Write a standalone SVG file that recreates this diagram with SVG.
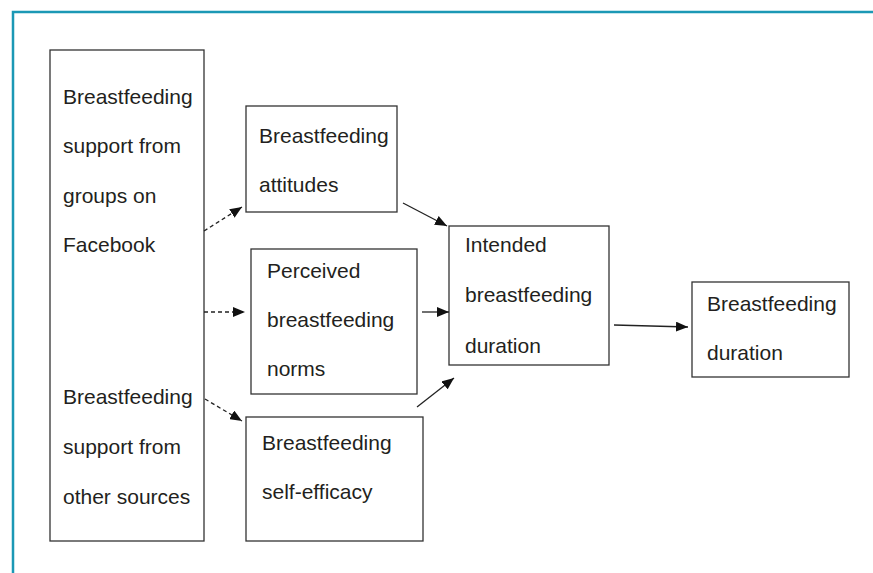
<svg xmlns="http://www.w3.org/2000/svg" width="873" height="573" viewBox="0 0 873 573">
<style>
.box{fill:#fff;stroke:#333;stroke-width:1.3}
.t{font-family:"Liberation Sans",Arial,sans-serif;font-size:21px;fill:#231f20}
.c{stroke:#222;stroke-width:1.3;fill:none}
.d{stroke-dasharray:4 3}
</style>
<defs>
<marker id="ah" viewBox="0 0 12 10" refX="12" refY="5" markerWidth="12" markerHeight="10" markerUnits="userSpaceOnUse" orient="auto">
<path d="M0,0 L12,5 L0,10 z" fill="#111"/>
</marker>
</defs>
<rect width="873" height="573" fill="#fff"/>
<path d="M13,573 V12 H873" fill="none" stroke="#1b98b5" stroke-width="2.5"/>
<g id="n-support">
<rect class="box" x="50" y="50" width="154" height="491"/>
<text class="t" x="63" y="104">Breastfeeding</text>
<text class="t" x="63" y="153">support from</text>
<text class="t" x="63" y="203">groups on</text>
<text class="t" x="63" y="252">Facebook</text>
<text class="t" x="63" y="404">Breastfeeding</text>
<text class="t" x="63" y="454">support from</text>
<text class="t" x="63" y="504">other sources</text>
</g>
<g id="n-attitudes">
<rect class="box" x="246" y="106" width="151" height="106"/>
<text class="t" x="259" y="143">Breastfeeding</text>
<text class="t" x="259" y="192">attitudes</text>
</g>
<g id="n-norms">
<rect class="box" x="251" y="249" width="166" height="145"/>
<text class="t" x="267" y="278">Perceived</text>
<text class="t" x="267" y="327">breastfeeding</text>
<text class="t" x="267" y="376">norms</text>
</g>
<g id="n-selfefficacy">
<rect class="box" x="246" y="417" width="177" height="124"/>
<text class="t" x="262" y="450">Breastfeeding</text>
<text class="t" x="262" y="499">self-efficacy</text>
</g>
<g id="n-intended">
<rect class="box" x="449" y="226" width="160" height="139"/>
<text class="t" x="465" y="252">Intended</text>
<text class="t" x="465" y="302">breastfeeding</text>
<text class="t" x="465" y="353">duration</text>
</g>
<g id="n-duration">
<rect class="box" x="692" y="282" width="157" height="95"/>
<text class="t" x="707" y="311">Breastfeeding</text>
<text class="t" x="707" y="360">duration</text>
</g>
<g id="connectors">
<line class="c d" x1="204" y1="231" x2="242" y2="207" marker-end="url(#ah)"/>
<line class="c d" x1="204" y1="312" x2="245" y2="312" marker-end="url(#ah)"/>
<line class="c d" x1="205" y1="399" x2="242" y2="421" marker-end="url(#ah)"/>
<line class="c" x1="403" y1="203" x2="447" y2="226" marker-end="url(#ah)"/>
<line class="c" x1="422" y1="312" x2="449" y2="312" marker-end="url(#ah)"/>
<line class="c" x1="417" y1="407" x2="454" y2="378" marker-end="url(#ah)"/>
<line class="c" x1="614" y1="325" x2="688" y2="327" marker-end="url(#ah)"/>
</g>
</svg>
